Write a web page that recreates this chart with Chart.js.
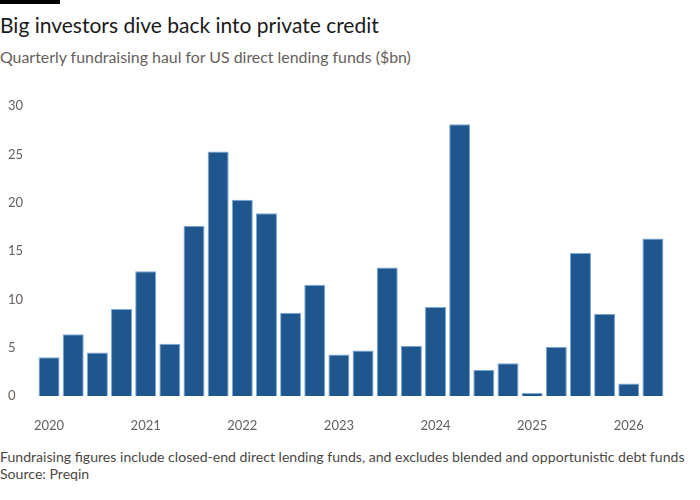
<!DOCTYPE html>
<html>
<head>
<meta charset="utf-8">
<script src="https://cdn.jsdelivr.net/npm/chart.js@4"></script>
<style>
  html, body { margin: 0; padding: 0; background: #ffffff; width: 700px; height: 500px; overflow: hidden; }
  body { font-family: "Lato", "Noto Sans", sans-serif; position: relative; }
  #bar { position: absolute; left: 0; top: 0; width: 60px; height: 4px; background: #000; }
  #title { position: absolute; left: 0; top: 12px; font-size: 21px; color: #1a1a1a; white-space: nowrap; line-height: 26px; }
  #subtitle { position: absolute; left: 0; top: 47px; font-size: 15.9px; color: #66605c; white-space: nowrap; line-height: 20px; }
  #wrap { position: absolute; left: 0; top: 91px; width: 700px; height: 340px; }
  #note { position: absolute; left: 0; top: 448px; font-size: 14.1px; color: #4d4845; white-space: nowrap; line-height: 17px; }
  #source { position: absolute; left: 0; top: 465px; font-size: 14.1px; color: #4d4845; white-space: nowrap; line-height: 17px; }
</style>
</head>
<body>
<div id="bar"></div>
<div id="title">Big investors dive back into private credit</div>
<div id="subtitle">Quarterly fundraising haul for US direct lending funds ($bn)</div>
<div id="wrap"><canvas id="c"></canvas></div>
<div id="note">Fundraising figures include closed-end direct lending funds, and excludes blended and opportunistic debt funds</div>
<div id="source">Source: Preqin</div>
<script>
const quarters = [
  "2020 Q1","2020 Q2","2020 Q3","2020 Q4",
  "2021 Q1","2021 Q2","2021 Q3","2021 Q4",
  "2022 Q1","2022 Q2","2022 Q3","2022 Q4",
  "2023 Q1","2023 Q2","2023 Q3","2023 Q4",
  "2024 Q1","2024 Q2","2024 Q3","2024 Q4",
  "2025 Q1","2025 Q2","2025 Q3","2025 Q4",
  "2026 Q1","2026 Q2"
];
const fundraising = [
  4.0, 6.4, 4.5, 9.0,
  12.9, 5.4, 17.6, 25.3,
  20.3, 18.9, 8.6, 11.5,
  4.3, 4.7, 13.3, 5.2,
  9.2, 28.1, 2.7, 3.4,
  0.3, 5.1, 14.8, 8.5,
  1.3, 16.3
];
const yTicks = [0, 5, 10, 15, 20, 25, 30];

const tickColor = "#66605c";
new Chart(document.getElementById("c"), {
  type: "bar",
  data: {
    labels: quarters,
    datasets: [{
      data: fundraising,
      backgroundColor: "#1f568e",
      borderColor: "#79abdc",
      borderWidth: 1,
      borderSkipped: "bottom",
      barPercentage: 0.87,
      categoryPercentage: 1.0
    }]
  },
  options: {
    responsive: true,
    maintainAspectRatio: false,
    animation: false,
    layout: { padding: { left: 8, right: 35, top: 15, bottom: 0 } },
    plugins: { legend: { display: false }, tooltip: { enabled: false } },
    scales: {
      x: {
        grid: { display: false },
        border: { display: false },
        ticks: {
          autoSkip: false,
          maxRotation: 0,
          padding: 14,
          color: tickColor,
          font: { family: "Lato", size: 13 },
          callback: function(v, i) {
            const l = quarters[i];
            return l.endsWith("Q1") ? l.slice(0, 4) : "";
          }
        },
        afterFit: s => { s.height = 35; }
      },
      y: {
        min: 0, max: 30,
        afterBuildTicks: s => { s.ticks = yTicks.map(v => ({ value: v })); },
        grid: { display: false },
        border: { display: false },
        ticks: {
          crossAlign: "far",
          color: tickColor,
          font: { family: "Lato", size: 13 }
        },
        afterFit: s => { s.width = 29; }
      }
    }
  }
});
</script>
</body>
</html>
